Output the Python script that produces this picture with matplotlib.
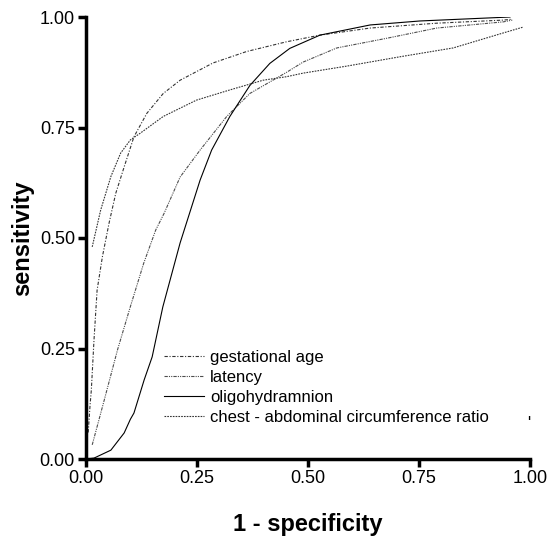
import numpy as np
import matplotlib
matplotlib.use("Agg")
import matplotlib.pyplot as plt

# ================= DATA =================
labels = ["gestational age", "latency", "oligohydramnion",
          "chest - abdominal circumference ratio"]

# gestational age
ga_x = [0.005, 0.009, 0.012, 0.018, 0.025, 0.037, 0.052, 0.067, 0.086, 0.108,
        0.137, 0.174, 0.212, 0.286, 0.362, 0.452, 0.527, 0.64, 0.79, 0.94, 0.96]
ga_y = [0.06, 0.12, 0.156, 0.269, 0.382, 0.458, 0.534, 0.601, 0.661, 0.729,
        0.782, 0.827, 0.857, 0.896, 0.922, 0.944, 0.959, 0.975, 0.986, 0.993, 0.995]

# latency
lat_x = [0.014, 0.041, 0.071, 0.1, 0.13, 0.157, 0.176, 0.212, 0.257, 0.317,
         0.369, 0.414, 0.452, 0.489, 0.565, 0.678, 0.79, 0.94, 0.96]
lat_y = [0.032, 0.133, 0.247, 0.345, 0.443, 0.518, 0.556, 0.638, 0.699, 0.775,
         0.827, 0.853, 0.875, 0.898, 0.93, 0.952, 0.975, 0.989, 0.993]

# oligohydramnion
oli_x = [0.0, 0.018, 0.056, 0.086, 0.1, 0.108, 0.131, 0.149, 0.173, 0.212,
         0.257, 0.283, 0.324, 0.369, 0.414, 0.459, 0.527, 0.64, 0.752, 0.955]
oli_y = [0.0, 0.002, 0.02, 0.059, 0.09, 0.104, 0.179, 0.231, 0.344, 0.489,
         0.631, 0.699, 0.775, 0.845, 0.895, 0.929, 0.959, 0.982, 0.991, 1.0]

# chest - abdominal circumference ratio
car_x = [0.014, 0.033, 0.056, 0.078, 0.1, 0.122, 0.174, 0.249, 0.324, 0.399,
         0.452, 0.489, 0.588, 0.707, 0.827, 0.94, 0.984]
car_y = [0.48, 0.563, 0.639, 0.692, 0.722, 0.737, 0.775, 0.812, 0.835, 0.857,
         0.865, 0.873, 0.889, 0.91, 0.93, 0.964, 0.977]

ticks = [0.0, 0.25, 0.5, 0.75, 1.0]
tick_labels = ["0.00", "0.25", "0.50", "0.75", "1.00"]

# ================= PLOT =================
plt.rcParams['font.family'] = ['Liberation Sans', 'DejaVu Sans']

fig = plt.figure(figsize=(5.49, 5.44), dpi=100)
ax = fig.add_axes([86 / 549, 1 - 459 / 544, 444 / 549, 442 / 544])

ax.plot(ga_x, ga_y, color='0.2', linewidth=0.8, linestyle=(0, (3, 1.5, 1, 1.5)),
        label=labels[0])
ax.plot(lat_x, lat_y, color='0.3', linewidth=0.8,
        linestyle=(0, (3, 1, 1, 1, 1, 1)), label=labels[1])
ax.plot(oli_x, oli_y, color='black', linewidth=0.8, linestyle='-',
        label=labels[2])
ax.plot(car_x, car_y, color='0.2', linewidth=0.8, linestyle=(0, (1.5, 1)),
        label=labels[3])

ax.set_xlim(0, 1)
ax.set_ylim(0, 1)
ax.set_xticks(ticks)
ax.set_xticklabels(tick_labels)
ax.set_yticks(ticks)
ax.set_yticklabels(tick_labels)

for side in ['top', 'right']:
    ax.spines[side].set_visible(False)
for side in ['left', 'bottom']:
    ax.spines[side].set_linewidth(2.5)
ax.tick_params(axis='both', direction='out', length=6, width=2.5,
               labelsize=13, pad=2)

ax.set_xlabel('1 - specificity', fontsize=17, fontweight='bold', labelpad=19)
ax.set_ylabel('sensitivity', fontsize=17, fontweight='bold', labelpad=4)

ax.legend(loc='lower left', bbox_to_anchor=(0.16, 0.062), frameon=False,
          fontsize=12, handlelength=2.4, handletextpad=0.4, labelspacing=0.3,
          borderaxespad=0)
ax.text(0.997, 0.08, "'", transform=ax.transAxes, fontsize=12,
        ha='center', va='center')

fig.savefig('out.png', dpi=100)
